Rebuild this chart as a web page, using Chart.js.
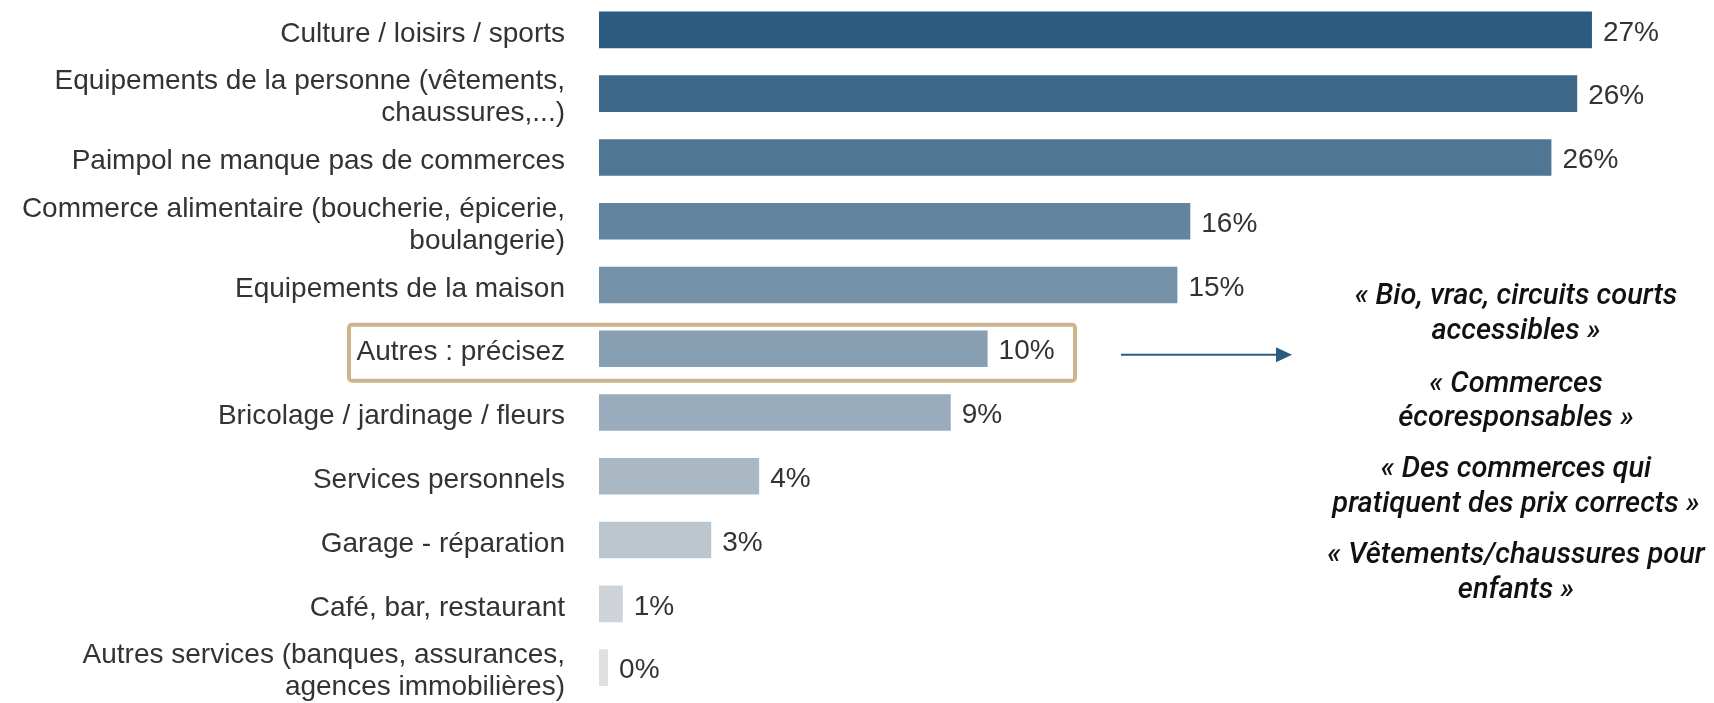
<!DOCTYPE html>
<html>
<head>
<meta charset="utf-8">
<script src="https://cdn.jsdelivr.net/npm/chart.js@4"></script>
<style>
  html, body { margin: 0; padding: 0; background: #ffffff; overflow: hidden; }
  #wrap { position: relative; width: 1714px; height: 703px; overflow: hidden; }
  #c { display: block; margin-top: -2px; }
</style>
</head>
<body>
<div id="wrap"><canvas id="c" width="1714" height="705"></canvas></div>
<script>
// ---- Data ----
const categories = [
  "Culture / loisirs / sports",
  ["Equipements de la personne (vêtements,", "chaussures,...)"],
  "Paimpol ne manque pas de commerces",
  ["Commerce alimentaire (boucherie, épicerie,", "boulangerie)"],
  "Equipements de la maison",
  "Autres : précisez",
  "Bricolage / jardinage / fleurs",
  "Services personnels",
  "Garage - réparation",
  "Café, bar, restaurant",
  ["Autres services (banques, assurances,", "agences immobilières)"]
];
const values = [27.0, 26.6, 25.9, 16.1, 15.75, 10.6, 9.6, 4.4, 3.1, 0.7, 0.3];
const valueLabels = ["27%", "26%", "26%", "16%", "15%", "10%", "9%", "4%", "3%", "1%", "0%"];
const barColors = ["#2C5B81", "#3E6889", "#4F7693", "#63849E", "#7592A9", "#889FB3",
                   "#99ACBD", "#AAB8C4", "#BCC6CF", "#CDD3D8", "#E0E0E0"];
const highlightIndex = 5;
const quotes = [
  ["« Bio, vrac, circuits courts", "accessibles »"],
  ["« Commerces", "écoresponsables »"],
  ["« Des commerces qui", "pratiquent des prix corrects »"],
  ["« Vêtements/chaussures pour", "enfants »"]
];

const LABEL_FONT = '"Liberation Sans", Arial, sans-serif';
const SHIFT = 2; // canvas is shifted up by 2px on the page

const valueLabelPlugin = {
  id: 'valueLabels',
  afterDatasetsDraw(chart) {
    const ctx = chart.ctx;
    const meta = chart.getDatasetMeta(0);
    ctx.save();
    ctx.font = '28px ' + LABEL_FONT;
    ctx.fillStyle = '#333333';
    ctx.textAlign = 'left';
    ctx.textBaseline = 'middle';
    meta.data.forEach((bar, i) => {
      ctx.fillText(valueLabels[i], bar.x + 10, bar.y + 3);
    });
    ctx.restore();
  }
};

const annotationPlugin = {
  id: 'annotations',
  afterDraw(chart) {
    const ctx = chart.ctx;
    const yScale = chart.scales.y;
    const c = yScale.getPixelForValue(highlightIndex);
    ctx.save();
    // highlight box
    const x0 = 349, x1 = 1075, y0 = c - 24, y1 = c + 32, r = 3;
    ctx.strokeStyle = '#CDB68E';
    ctx.lineWidth = 4;
    ctx.beginPath();
    ctx.moveTo(x0 + r, y0);
    ctx.lineTo(x1 - r, y0); ctx.arcTo(x1, y0, x1, y0 + r, r);
    ctx.lineTo(x1, y1 - r); ctx.arcTo(x1, y1, x1 - r, y1, r);
    ctx.lineTo(x0 + r, y1); ctx.arcTo(x0, y1, x0, y1 - r, r);
    ctx.lineTo(x0, y0 + r); ctx.arcTo(x0, y0, x0 + r, y0, r);
    ctx.closePath();
    ctx.stroke();
    // arrow
    const ay = c + 6;
    ctx.strokeStyle = '#2C5B81';
    ctx.fillStyle = '#2C5B81';
    ctx.lineWidth = 2;
    ctx.beginPath();
    ctx.moveTo(1121, ay);
    ctx.lineTo(1280, ay);
    ctx.stroke();
    ctx.beginPath();
    ctx.moveTo(1292, ay);
    ctx.lineTo(1276, ay - 7.5);
    ctx.lineTo(1276, ay + 7.5);
    ctx.closePath();
    ctx.fill();
    // quotes
    ctx.font = 'italic 500 29px Roboto, "Noto Sans", sans-serif';
    ctx.fillStyle = '#111111';
    ctx.textAlign = 'center';
    ctx.textBaseline = 'alphabetic';
    const baselines = [[304, 339], [392, 426], [477, 512], [563, 598]];
    quotes.forEach((q, gi) => {
      q.forEach((line, li) => {
        ctx.fillText(line, 1516, baselines[gi][li] + SHIFT);
      });
    });
    ctx.restore();
  }
};

new Chart(document.getElementById('c'), {
  type: 'bar',
  data: {
    labels: categories,
    datasets: [{
      data: values,
      backgroundColor: barColors,
      borderColor: 'rgba(255,255,255,0.35)',
      borderWidth: 1,
      borderSkipped: false,
      barPercentage: 0.605,
      categoryPercentage: 1.0
    }]
  },
  options: {
    indexAxis: 'y',
    responsive: false,
    animation: false,
    devicePixelRatio: 1,
    layout: { padding: { top: 0, bottom: 3.5, left: 0, right: 10.5 } },
    plugins: {
      legend: { display: false },
      tooltip: { enabled: false }
    },
    scales: {
      x: {
        display: false,
        min: 0,
        max: 30,
        grid: { display: false }
      },
      y: {
        position: 'left',
        grid: { display: false, drawTicks: false },
        border: { display: false },
        afterFit(scale) {
          scale.width = 598;
          scale.paddingTop = 0;
          scale.paddingBottom = 0;
        },
        ticks: {
          padding: 33,
          labelOffset: 4,
          color: '#333333',
          autoSkip: false,
          font: { family: LABEL_FONT, size: 28, lineHeight: 1.15 }
        }
      }
    }
  },
  plugins: [valueLabelPlugin, annotationPlugin]
});
</script>
</body>
</html>
